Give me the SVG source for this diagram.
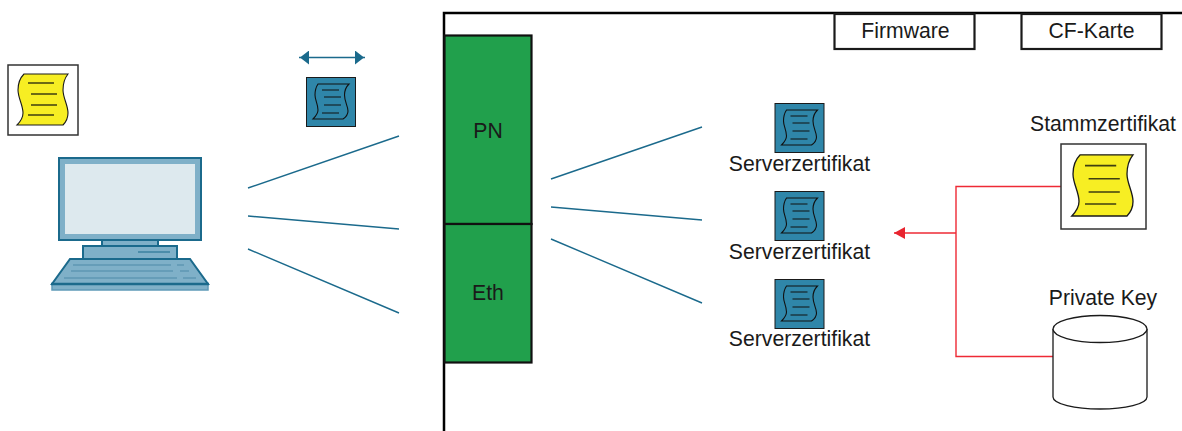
<svg xmlns="http://www.w3.org/2000/svg" xmlns:xlink="http://www.w3.org/1999/xlink" width="1182" height="431" viewBox="0 0 1182 431">
<style>
text{font-family:"Liberation Sans",Arial,sans-serif;font-size:21.200px;fill:#1a1a1a;text-anchor:middle}
.frame{fill:none;stroke:#000;stroke-width:2.5}
.box{fill:#fff;stroke:#1a1a1a;stroke-width:2.2}
.thin{fill:#fff;stroke:#333;stroke-width:1.500}
.teal{stroke:#1b6a8c;stroke-width:1.4;fill:none}
.red{stroke:#ee2a35;stroke-width:1.4;fill:none}
.cyl{fill:#fff;stroke:#1a1a1a;stroke-width:1.3}
.m{fill:#7fb0c8;stroke:#1b6a8c;stroke-width:2}
.k{stroke:#4e8aa8;stroke-width:1;fill:none}
</style>
<defs>
<g id="doc"><path d="M-19,-26 H25 C21,-21 20,-15 20,-10 C20,-2 25,5 25,13 C25,18 23,22 20,25 H-26 C-22,21 -20,18 -20,13 C-20,5 -25,-2 -25,-10 C-25,-16 -23,-22 -19,-26 Z" fill="#f7ee23" stroke="#1a1a1a" stroke-width="1.100"/>
<path d="M-15,-17 H11 M-12,-6 H14 M-12,5 H14 M-15,15 H11" stroke="#3f3f10" stroke-width="1.300" fill="none"/></g>
<g id="srv"><rect x="-24.500" y="-24.500" width="49" height="49" fill="#2f86a9" stroke="#1a1a1a" stroke-width="1"/>
<path d="M-13,-18 H18 C15,-15 13.500,-11 13.500,-7 C13.500,0 17,4 17,9 C17,12 15,15 12,17 H-18 C-15,14 -13,12 -13,8 C-13,2 -16,-2 -16,-7 C-16,-11 -15,-15 -13,-18 Z" fill="none" stroke="#111" stroke-width="1.100"/>
<path d="M-9,-12 H8 M-7,-5 H10 M-7,3 H10 M-9,11 H8" stroke="#111" stroke-width="1.100"/></g>
<marker id="arr" markerUnits="userSpaceOnUse" markerWidth="12" markerHeight="14" refX="10" refY="7" orient="auto-start-reverse"><path d="M0,0 L9,7 L0,14 Z" fill="#1b6a8c"/></marker>
<marker id="rarr" markerUnits="userSpaceOnUse" markerWidth="12" markerHeight="14" refX="11" refY="6" orient="auto"><path d="M0,0 L11,6 L0,12 Z" fill="#e8242f"/></marker>
</defs>
<g id="connectors">
<path class="frame" d="M444,431 V13 H1182"/>
<path class="teal" d="M248,188 L399,136 M248,216 L399,229 M248,249 L399,313 M551,179 L702,127 M551,207 L702,220 M551,239 L702,303"/>
<path class="teal" d="M299,57.500 H365" marker-start="url(#arr)" marker-end="url(#arr)"/>
<path class="red" d="M1061,186.500 H956 V356.500 H1053"/>
<path class="red" d="M956,233 H894" marker-end="url(#rarr)"/>
</g>
<g id="pc">
<rect x="59" y="158" width="142" height="82" class="m"/>
<rect x="65" y="164" width="130" height="70" fill="#dde9ee"/>
<rect x="102" y="240" width="56" height="6" class="m"/>
<rect x="83" y="246" width="94" height="13" class="m"/>
<path d="M138,252 H170" stroke="#1b6a8c" stroke-width="1"/>
<path d="M70,259 H190 L208,284 H52 Z" class="m"/>
<path class="k" d="M73,265 H171 M177,265 H184 M71,271 H173 M180,271 H189 M64,278 H177 M183,278 H196"/>
<rect x="52" y="284" width="156" height="6" fill="#7fb0c8" stroke="#5f9ab8" stroke-width="1.500"/>
<path d="M51,284 H209" stroke="#1b6a8c" stroke-width="2.500"/>
</g>
<g id="cert-root-pc"><rect x="8" y="65" width="70" height="70" class="thin"/><use xlink:href="#doc" x="43" y="100"/></g>
<g id="cert-pc"><use xlink:href="#srv" x="331" y="102"/></g>
<g id="pn"><rect x="444.500" y="35.500" width="87" height="188.500" fill="#21a04c" stroke="#111" stroke-width="2.200"/><text x="488" y="138">PN</text></g>
<g id="eth"><rect x="444.500" y="224" width="87" height="138.500" fill="#21a04c" stroke="#111" stroke-width="2.200"/><text x="488" y="300">Eth</text></g>
<g id="firmware"><rect x="834.500" y="14" width="140" height="35" class="box"/><text x="905.500" y="38">Firmware</text></g>
<g id="cf"><rect x="1021.500" y="14" width="140" height="35" class="box"/><text x="1091.500" y="38">CF-Karte</text></g>
<g id="s1"><use xlink:href="#srv" x="799.500" y="128"/><text x="799.500" y="170.500">Serverzertifikat</text></g>
<g id="s2"><use xlink:href="#srv" x="799.500" y="216"/><text x="799.500" y="258.500">Serverzertifikat</text></g>
<g id="s3"><use xlink:href="#srv" x="799.500" y="304"/><text x="799.500" y="346">Serverzertifikat</text></g>
<g id="root"><text x="1103" y="131">Stammzertifikat</text><rect x="1061" y="144" width="85" height="85" class="thin"/><use xlink:href="#doc" transform="translate(1103,186) scale(1.200)"/></g>
<g id="key"><text x="1103" y="305">Private Key</text><path class="cyl" d="M1053,329 V397 C1053,404 1075,409 1100,409 C1125,409 1147,404 1147,397 V329"/><ellipse class="cyl" cx="1100" cy="329" rx="47" ry="13.500"/></g>
</svg>
